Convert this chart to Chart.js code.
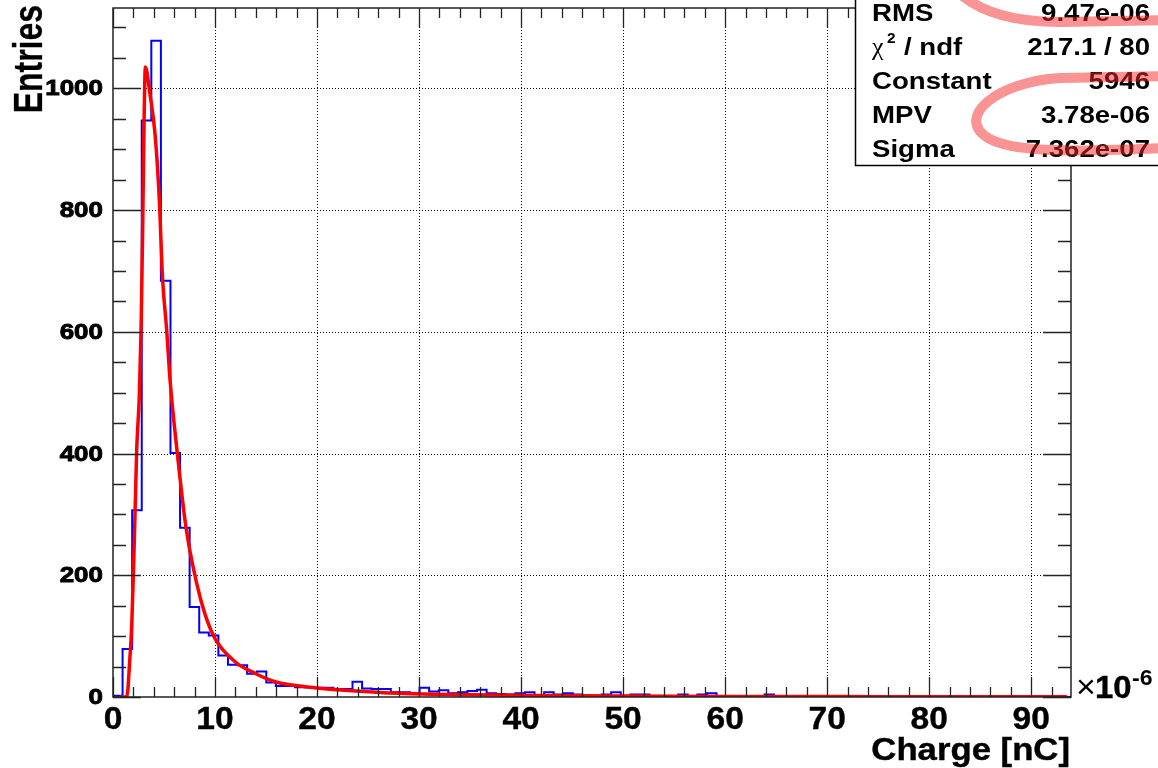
<!DOCTYPE html>
<html>
<head>
<meta charset="utf-8">
<script src="https://cdn.jsdelivr.net/npm/chart.js@4"></script>
<style>
  html, body { margin: 0; padding: 0; background: #fff; }
  canvas { display: block; }
</style>
</head>
<body>
<canvas id="landauChart" width="1158" height="768"></canvas>
<script>
// histogram contents, 100 bins from xMin to xMax (units of 1e-6 nC)
const xMin = 0;
const xMax = 93.9;
const yMax = 1132;
const binCounts = [
  2, 79, 307, 947, 1078, 684, 401, 278, 148, 106,
  101, 68, 53, 52, 38, 42, 24, 18, 18, 16,
  16, 15, 15, 13, 13, 25, 14, 13, 13, 8,
  8, 6, 15, 9, 11, 6, 8, 10, 12, 6,
  5, 4, 6, 8, 2, 8, 4, 6, 4, 2,
  2, 4, 8, 2, 4, 4, 1, 0, 0, 4,
  0, 4, 6, 0, 0, 0, 0, 0, 4, 0,
  0, 0, 0, 0, 0, 0, 0, 0, 0, 0,
  0, 0, 0, 0, 0, 0, 0, 0, 0, 0,
  0, 0, 0, 0, 0, 0, 0, 0, 0, 0
];

// landau fit curve
const fitX = [0.7, 1.3, 1.45, 1.6, 1.83, 2.0, 2.16, 2.32, 2.58, 2.75, 2.9, 3.05, 3.17,
  3.63, 4.12, 4.54, 4.85, 5.26, 5.59, 6.3, 7.16, 8.2, 9.0, 10.0, 11.96, 13.9, 15.9,
  18.8, 23.4, 28, 35, 45, 60, 75, 93.5];
const fitY = [0, 0, 10, 50, 115, 203, 302, 405, 495, 603, 760, 950, 1035,
  990, 925, 817, 690, 603, 521, 401, 278, 187, 137, 96, 58, 39, 25,
  17, 10.4, 6, 3.5, 2, 1, 0.6, 0.3];

const xTickLabels = [0, 10, 20, 30, 40, 50, 60, 70, 80, 90];
const yTickLabels = [0, 200, 400, 600, 800, 1000];
const xMinorStep = 2;
const yMinorStep = 50;

const statNames = ["RMS", "chi2", "Constant", "MPV", "Sigma"];
const statValues = ["9.47e-06", "217.1 / 80", "5946", "3.78e-06", "7.362e-07"];

const binWidth = (xMax - xMin) / binCounts.length;
const histPoints = [{ x: xMin, y: 0 }];
binCounts.forEach((c, i) => histPoints.push({ x: xMin + i * binWidth, y: c }));
histPoints.push({ x: xMax, y: binCounts[binCounts.length - 1] });

const fitPoints = fitX.map((x, i) => ({ x: x, y: fitY[i] }));

const FONT = "'Liberation Sans', Arial, Helvetica, sans-serif";

function text(ctx, str, x, y, font, align, sx, sy, stroke) {
  ctx.save();
  ctx.font = font;
  ctx.translate(x, y);
  ctx.scale(sx || 1, sy || 1);
  ctx.textAlign = align || "left";
  ctx.fillText(str, 0, 0);
  if (stroke) {
    ctx.lineWidth = stroke;
    ctx.strokeStyle = ctx.fillStyle;
    ctx.strokeText(str, 0, 0);
  }
  ctx.restore();
}

// ROOT-like frame, ticks, labels and stat box
const rootFrame = {
  id: "rootFrame",
  beforeDatasetsDraw(chart) {
    const { ctx, chartArea: a, scales } = chart;
    ctx.save();
    ctx.strokeStyle = "#000";
    ctx.lineWidth = 1;
    ctx.setLineDash([1, 2]);
    xTickLabels.forEach(v => {
      if (v === xMin) return;
      const px = Math.round(scales.x.getPixelForValue(v)) + 0.5;
      ctx.beginPath();
      ctx.moveTo(px, a.bottom);
      ctx.lineTo(px, a.top);
      ctx.stroke();
    });
    yTickLabels.forEach(v => {
      if (v === 0) return;
      const py = Math.round(scales.y.getPixelForValue(v)) + 0.5;
      ctx.beginPath();
      ctx.moveTo(a.left, py);
      ctx.lineTo(a.right, py);
      ctx.stroke();
    });
    ctx.restore();
  },
  afterDatasetsDraw(chart) {
    const { ctx, chartArea: a, scales } = chart;
    ctx.save();
    ctx.strokeStyle = "#222";
    ctx.lineWidth = 1.5;
    ctx.strokeRect(a.left, a.top, a.right - a.left, a.bottom - a.top);

    // x ticks, bottom and top
    ctx.lineWidth = 1.3;
    for (let v = xMin; v <= xMax + 1e-9; v += xMinorStep) {
      const px = Math.round(scales.x.getPixelForValue(v)) + 0.5;
      const len = v % 10 === 0 ? 20 : 10;
      ctx.beginPath();
      ctx.moveTo(px, a.bottom);
      ctx.lineTo(px, a.bottom - len);
      ctx.moveTo(px, a.top);
      ctx.lineTo(px, a.top + len);
      ctx.stroke();
    }
    // y ticks, left and right
    for (let v = 0; v <= yMax; v += yMinorStep) {
      const py = Math.round(scales.y.getPixelForValue(v)) + 0.5;
      const len = v % 200 === 0 ? 28 : 13;
      ctx.beginPath();
      ctx.moveTo(a.left, py);
      ctx.lineTo(a.left + len, py);
      ctx.moveTo(a.right, py);
      ctx.lineTo(a.right - len, py);
      ctx.stroke();
    }

    ctx.fillStyle = "#000";
    ctx.textBaseline = "alphabetic";
    xTickLabels.forEach(v => {
      text(ctx, String(v), scales.x.getPixelForValue(v), 729, "bold 32px " + FONT, "center", 1.05, 1, 0.4);
    });
    ctx.textBaseline = "middle";
    yTickLabels.forEach(v => {
      text(ctx, String(v), 103, scales.y.getPixelForValue(v) + 1, "bold 22px " + FONT, "right", 1.18, 1, 0.9);
    });
    ctx.textBaseline = "alphabetic";

    // exponent
    text(ctx, "\u00d7", 1076, 698, "34px " + FONT, "left", 1);
    text(ctx, "10", 1095, 698, "bold 32px " + FONT, "left", 1.03, 1, 0.4);
    text(ctx, "-6", 1132, 685, "bold 22px " + FONT, "left", 1.05);

    // axis titles
    text(ctx, "Charge [nC]", 1070, 760, "bold 31px " + FONT, "right", 1.12, 1, 0.4);
    ctx.save();
    ctx.translate(42, 5);
    ctx.rotate(-Math.PI / 2);
    text(ctx, "Entries", 0, 0, "bold 31px " + FONT, "right", 1.03, 1.3, 0.2);
    ctx.restore();

    // stat box
    ctx.fillStyle = "#fff";
    ctx.fillRect(855, -2, 310, 168);
    ctx.strokeStyle = "#000";
    ctx.lineWidth = 1.5;
    ctx.strokeRect(855.5, -2, 310, 167.5);
    ctx.fillStyle = "#000";
    const baselines = [21, 55, 89, 123, 157];
    statNames.forEach((name, i) => {
      const y = baselines[i];
      if (name === "chi2") {
        text(ctx, "\u03c7", 872, y, "26px 'Liberation Serif', serif", "left", 1);
        text(ctx, "2", 887, y - 12, "bold 14px " + FONT, "left", 1.1);
        text(ctx, "/ ndf", 904, y, "bold 23px " + FONT, "left", 1.2);
      } else {
        text(ctx, name, 872, y, "bold 23px " + FONT, "left", 1.2);
      }
      text(ctx, statValues[i], 1150, y, "bold 23px " + FONT, "right", 1.2);
    });

    // pink marker strokes over the box
    ctx.strokeStyle = "rgba(245, 40, 40, 0.5)";
    ctx.lineWidth = 10;
    ctx.lineCap = "round";
    ctx.beginPath();
    ctx.moveTo(958, -8);
    ctx.quadraticCurveTo(990, 22, 1060, 22);
    ctx.lineTo(1165, 20);
    ctx.stroke();
    ctx.beginPath();
    ctx.moveTo(1165, 76);
    ctx.lineTo(1060, 78);
    ctx.bezierCurveTo(995, 82, 955, 118, 988, 138);
    ctx.bezierCurveTo(1010, 151, 1060, 153, 1165, 148);
    ctx.stroke();
    ctx.restore();
  }
};

new Chart(document.getElementById("landauChart").getContext("2d"), {
  type: "line",
  data: {
    datasets: [
      {
        label: "fit",
        data: fitPoints,
        borderColor: "#ff0000",
        borderWidth: 3.5,
        pointRadius: 0,
        fill: false,
        cubicInterpolationMode: "monotone",
        order: 1
      },
      {
        label: "Charge",
        data: histPoints,
        borderColor: "#0000ff",
        borderWidth: 2,
        pointRadius: 0,
        fill: false,
        stepped: "before",
        order: 2
      }
    ]
  },
  options: {
    responsive: false,
    animation: false,
    layout: { padding: { left: 113, top: 8, right: 87, bottom: 71 } },
    plugins: { legend: { display: false }, tooltip: { enabled: false } },
    scales: {
      x: { type: "linear", min: xMin, max: xMax, display: false },
      y: { type: "linear", min: 0, max: yMax, display: false }
    }
  },
  plugins: [rootFrame]
});
</script>
</body>
</html>
